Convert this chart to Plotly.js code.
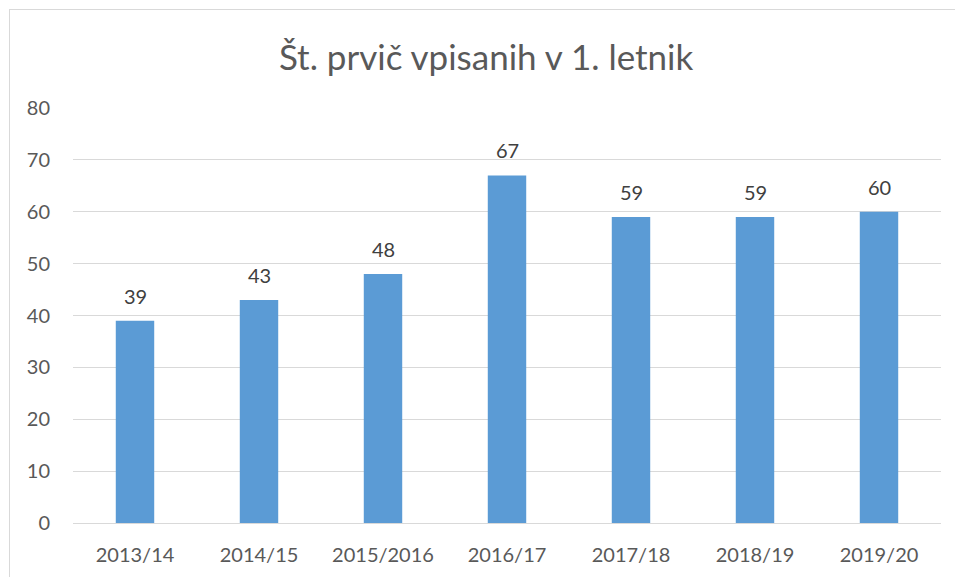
<!DOCTYPE html>
<html><head><meta charset="utf-8">
<script src="https://cdn.plot.ly/plotly-3.0.1.min.js"></script>
<style>
html,body{margin:0;padding:0;overflow:hidden;background:#fff;}
#frame{position:absolute;left:9px;top:9px;width:1000px;height:620px;border:1px solid #d9d9d9;box-sizing:border-box;}
#chart{position:absolute;left:0;top:0;width:955px;height:577px;}
</style></head><body>
<div id="frame"></div>
<div id="chart"></div>
<script>
const categories = ["2013/14","2014/15","2015/2016","2016/17","2017/18","2018/19","2019/20"];
const values = [39,43,48,67,59,59,60];
const yTicks = [0,10,20,30,40,50,60,70,80];

const font = "Lato, 'Noto Sans', 'Liberation Sans', sans-serif";
const trace = {
  type:'bar', x:categories, y:values,
  marker:{color:'#5b9bd5'}, hoverinfo:'x+y'
};
const annotations = categories.map((c,i)=>({
  x:c, y:values[i], xref:'x', yref:'y', text:String(values[i]),
  showarrow:false, yanchor:'bottom', yshift:11,
  font:{family:font, size:20, color:'#404040'}
}));
const layout = {
  width:955, height:577,
  margin:{l:73, r:14, t:108, b:54},
  paper_bgcolor:'rgba(0,0,0,0)', plot_bgcolor:'rgba(0,0,0,0)',
  bargap:0.69,
  showlegend:false,
  title:{text:'Št. prvič vpisanih v 1. letnik', x:0.509, xanchor:'center', y:0.9, yanchor:'middle',
    font:{family:font, size:35, color:'#595959'}},
  xaxis:{type:'category', showgrid:false, showline:true, linecolor:'#d9d9d9', linewidth:1,
    ticks:'outside', ticklen:14, tickcolor:'rgba(0,0,0,0)',
    tickfont:{family:font, size:20, color:'#595959'}, fixedrange:true},
  yaxis:{range:[0,80], tickvals:yTicks, showgrid:true, gridcolor:'#d9d9d9', gridwidth:1,
    zeroline:false, showline:false, ticks:'outside', ticklen:18, tickcolor:'rgba(0,0,0,0)',
    tickfont:{family:font, size:20, color:'#595959'}, fixedrange:true},
  annotations:annotations
};
Plotly.newPlot('chart',[trace],layout,{displayModeBar:false, staticPlot:true});
</script>
</body></html>
